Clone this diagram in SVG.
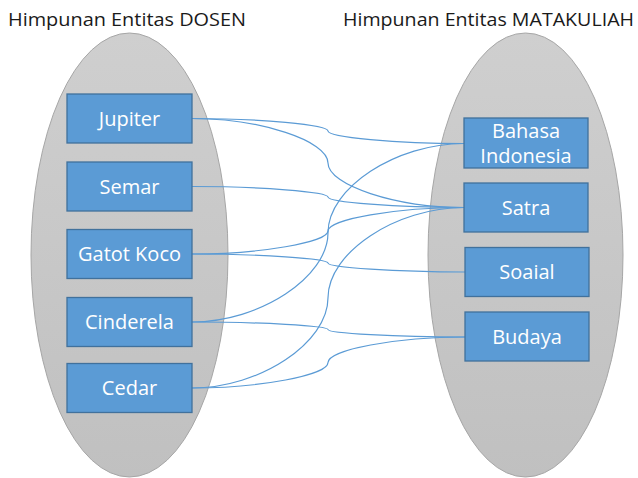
<svg xmlns="http://www.w3.org/2000/svg" width="638" height="478" viewBox="0 0 638 478">
  <defs>
    <linearGradient id="setFill" x1="0" y1="0" x2="0" y2="1">
      <stop offset="0" stop-color="#cfcfcf"/>
      <stop offset="1" stop-color="#c0c0c0"/>
    </linearGradient>
    <style>
      .title { font-family: "Open Sans", "Noto Sans", sans-serif; font-size: 19px; fill: #1a1a1a; }
      .set { fill: url(#setFill); stroke: #a6a6a6; stroke-width: 1; }
      .box { fill: #5b9bd5; stroke: #41719c; stroke-width: 1.3; }
      .label { font-family: "Open Sans", "Noto Sans", sans-serif; font-size: 20px; fill: #ffffff; text-anchor: middle; }
      .link { fill: none; stroke: #5b9bd5; stroke-width: 1.2; }
    </style>
  </defs>

  <rect width="638" height="478" fill="#ffffff"/>

  <!-- set titles -->
  <text class="title" x="8" y="26" textLength="238" lengthAdjust="spacingAndGlyphs">Himpunan Entitas DOSEN</text>
  <text class="title" x="343" y="26" textLength="291" lengthAdjust="spacingAndGlyphs">Himpunan Entitas MATAKULIAH</text>

  <!-- entity sets -->
  <g id="set-dosen"><ellipse class="set" cx="129.5" cy="255" rx="98.5" ry="222"/></g>
  <g id="set-matakuliah"><ellipse class="set" cx="525.5" cy="255" rx="97.5" ry="222"/></g>

  <!-- relationship connectors: curved, midpoint at x=328 -->
  <g id="connectors">
    <!-- Jupiter -> Bahasa Indonesia -->
    <path class="link" d="M192,118.5 C260,118.5 328,124.75 328,131 C328,137.25 396,143.5 464,143.5"/>
    <!-- Jupiter -> Satra -->
    <path class="link" d="M192,118.5 C260,118.5 328,140.75 328,163 C328,185.25 396,207.5 464,207.5"/>
    <!-- Semar -> Satra -->
    <path class="link" d="M192,186.5 C260,186.5 328,191.75 328,197 C328,202.25 396,207.5 464,207.5"/>
    <!-- Gatot Koco -> Satra -->
    <path class="link" d="M192,254 C260,254 328,242.25 328,231 C328,219.25 396,207.5 464,207.5"/>
    <!-- Gatot Koco -> Soaial -->
    <path class="link" d="M192,254 C260,254 328,258.5 328,263 C328,267.5 396,272 465,272"/>
    <!-- Cinderela -> Bahasa Indonesia -->
    <path class="link" d="M192,322 C260,322 328,277.25 328,232.75 C328,188 396,143.5 464,143.5"/>
    <!-- Cinderela -> Budaya -->
    <path class="link" d="M192,322 C260,322 328,325.75 328,329.5 C328,333.25 396,337 465,337"/>
    <!-- Cedar -> Satra -->
    <path class="link" d="M192,388 C260,388 328,342.75 328,297.75 C328,252.5 396,207.5 464,207.5"/>
    <!-- Cedar -> Budaya -->
    <path class="link" d="M192,388 C260,388 328,375.25 328,362.5 C328,349.75 396,337 465,337"/>
  </g>

  <!-- DOSEN entities -->
  <g id="jupiter"><rect class="box" x="67" y="94" width="125" height="49"/><text class="label" x="129.5" y="125.5">Jupiter</text></g>
  <g id="semar"><rect class="box" x="67" y="162" width="125" height="49"/><text class="label" x="129.5" y="193.5">Semar</text></g>
  <g id="gatot-koco"><rect class="box" x="67" y="229.5" width="125" height="49"/><text class="label" x="129.5" y="261">Gatot Koco</text></g>
  <g id="cinderela"><rect class="box" x="67" y="297.5" width="125" height="49"/><text class="label" x="129.5" y="329">Cinderela</text></g>
  <g id="cedar"><rect class="box" x="67" y="363.5" width="125" height="49"/><text class="label" x="129.5" y="395">Cedar</text></g>

  <!-- MATAKULIAH entities -->
  <g id="bahasa-indonesia"><rect class="box" x="464" y="118" width="124" height="50"/><text class="label" x="526" y="138">Bahasa</text><text class="label" x="526" y="163">Indonesia</text></g>
  <g id="satra"><rect class="box" x="464" y="183" width="124" height="49"/><text class="label" x="526" y="214.5">Satra</text></g>
  <g id="soaial"><rect class="box" x="465" y="247.5" width="124" height="49"/><text class="label" x="527" y="279">Soaial</text></g>
  <g id="budaya"><rect class="box" x="465" y="312" width="124" height="49"/><text class="label" x="527" y="343.5">Budaya</text></g>
</svg>
